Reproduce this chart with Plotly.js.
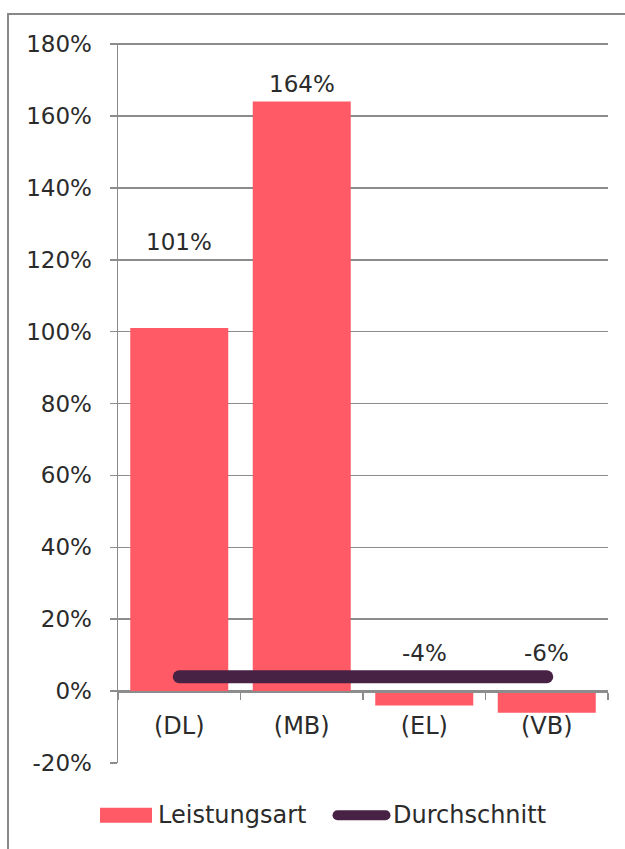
<!DOCTYPE html>
<html>
<head>
<meta charset="utf-8">
<script src="https://cdn.plot.ly/plotly-3.0.1.min.js"></script>
<style>
  html, body { margin: 0; padding: 0; background: #ffffff; }
  #chart { width: 625px; height: 849px; }
</style>
</head>
<body>
<div id="chart"></div>
<script>
// ---- data ----
var categories = ['(DL)', '(MB)', '(EL)', '(VB)'];
var leistungsart = [101, 164, -4, -6];
var durchschnitt = [4, 4, 4, 4];
var barLabels = ['101%', '164%', '-4%', '-6%'];
var yTickVals = [-20, 0, 20, 40, 60, 80, 100, 120, 140, 160, 180];

// ---- label placement (positions, not data) ----
var labelY = [125, 169, 10.5, 10.5];

var FONT = 'DejaVu Sans, Verdana, sans-serif';
var TXT = '#2b2b2b';
var GRID = '#8c8c8c';

var traces = [
  {
    type: 'bar',
    name: 'Leistungsart',
    x: categories,
    y: leistungsart,
    marker: { color: '#ff5a65' },
    hoverinfo: 'x+y'
  },
  {
    type: 'scatter',
    mode: 'lines',
    name: 'Durchschnitt',
    x: categories,
    y: durchschnitt,
    line: { color: '#472245', width: 13 },
    hoverinfo: 'x+y'
  }
];

var annotations = categories.map(function (c, i) {
  return {
    x: c, y: labelY[i], xref: 'x', yref: 'y',
    text: barLabels[i], showarrow: false,
    xanchor: 'center', yanchor: 'middle',
    font: { family: FONT, size: 23, color: TXT }
  };
});

var layout = {
  width: 625,
  height: 849,
  margin: { l: 118, r: 17, t: 43, b: 83 },
  paper_bgcolor: '#ffffff',
  plot_bgcolor: '#ffffff',
  font: { family: FONT, size: 23, color: TXT },
  bargap: 0.2,
  showlegend: true,
  legend: {
    orientation: 'h',
    x: 0.5, xanchor: 'center',
    y: -0.04, yanchor: 'top',
    font: { family: FONT, size: 24, color: TXT },
    traceorder: 'normal',
    bgcolor: 'rgba(0,0,0,0)'
  },
  xaxis: {
    type: 'category',
    anchor: 'free',
    position: 20 / 200.3,
    showline: true,
    linecolor: GRID,
    linewidth: 1.5,
    ticks: 'outside',
    tickson: 'boundaries',
    ticklen: 7,
    tickwidth: 1.5,
    tickcolor: GRID,
    ticklabelstandoff: 13,
    tickfont: { family: FONT, size: 24, color: TXT },
    showgrid: false,
    zeroline: false,
    fixedrange: true
  },
  yaxis: {
    range: [-20, 180.3],
    tickvals: yTickVals,
    ticktext: yTickVals.map(function (v) { return v + '%'; }),
    showline: true,
    linecolor: GRID,
    linewidth: 1.5,
    ticks: 'outside',
    ticklen: 7,
    tickwidth: 1.5,
    tickcolor: GRID,
    ticklabelstandoff: 13,
    tickfont: { family: FONT, size: 23, color: TXT },
    showgrid: true,
    gridcolor: GRID,
    gridwidth: 1.5,
    zeroline: false,
    fixedrange: true
  },
  annotations: annotations,
  shapes: [
    {
      type: 'rect', xref: 'paper', yref: 'paper',
      x0: (8 - 118) / 490, x1: 1.06,
      y0: -0.13, y1: 1 + 29 / 723,
      line: { color: '#888888', width: 2 },
      fillcolor: 'rgba(0,0,0,0)',
      layer: 'below'
    }
  ]
};

function parseTranslate(t) {
  var m = /translate\(\s*([-\d.e]+)[ ,]+([-\d.e]+)\s*\)/.exec(t || '');
  return m ? [parseFloat(m[1]), parseFloat(m[2])] : [0, 0];
}

Plotly.newPlot('chart', traces, layout, { displayModeBar: false, staticPlot: true }).then(function (gd) {
  // round caps on the average line
  gd.querySelectorAll('.scatterlayer path.js-line').forEach(function (p) {
    p.style.strokeLinecap = 'round';
  });

  // legend: no clipping, then place text starts and symbols like the reference
  gd.querySelectorAll('.legend [clip-path], .legend').forEach(function (el) {
    el.removeAttribute('clip-path');
  });
  var textStarts = [158, 393];
  var items = gd.querySelectorAll('.legend .traces');
  items.forEach(function (g, i) {
    var txt = g.querySelector('text.legendtext');
    if (!txt || textStarts[i] === undefined) return;
    var r = txt.getBoundingClientRect();
    var dx = textStarts[i] - r.left;
    var tr = parseTranslate(g.getAttribute('transform'));
    g.setAttribute('transform', 'translate(' + (tr[0] + dx) + ',' + tr[1] + ')');
  });
  items.forEach(function (g, i) {
    var txt = g.querySelector('text.legendtext');
    if (!txt) return;
    var r = txt.getBoundingClientRect();
    var cy = r.top + r.height / 2;
    var pts = g.querySelectorAll('.legendpoints path');
    pts.forEach(function (p) {
      var m = p.getScreenCTM();
      var x0 = (r.left - 58) - m.e, x1 = (r.left - 6) - m.e;
      var y0 = (cy - 7.5) - m.f, y1 = (cy + 7.5) - m.f;
      p.setAttribute('d', 'M' + x0 + ',' + y0 + 'H' + x1 + 'V' + y1 + 'H' + x0 + 'Z');
    });
    var lns = g.querySelectorAll('.legendlines path');
    lns.forEach(function (p) {
      var m = p.getScreenCTM();
      var x0 = (r.left - 55.5) - m.e, x1 = (r.left - 7.5) - m.e;
      var y = cy - m.f;
      p.setAttribute('d', 'M' + x0 + ',' + y + 'H' + x1);
      p.style.strokeLinecap = 'round';
    });
  });
});
</script>
</body>
</html>
